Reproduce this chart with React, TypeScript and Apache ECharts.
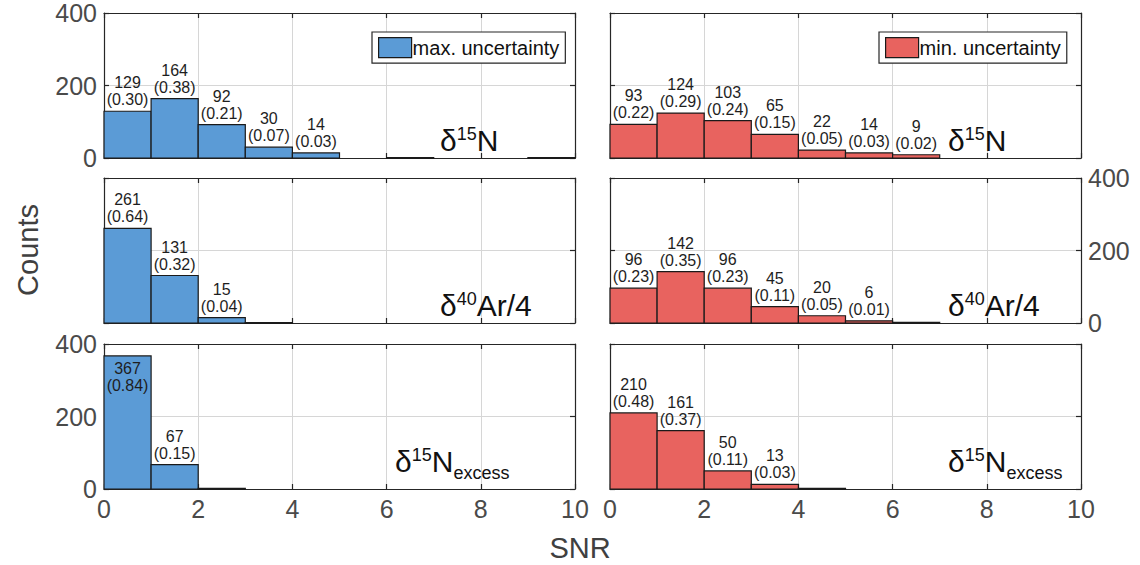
import React, { useEffect, useRef } from "react";
import * as echarts from "echarts";

// ---- data ----
const binEdges = [0, 1, 2, 3, 4, 5, 6, 7, 8, 9, 10];
const xTicks = [0, 2, 4, 6, 8, 10];
const yTicks = [0, 200, 400];

// counts per bin (SNR bins of width 1)
const maxN15Counts = [129, 164, 92, 30, 14, 0, 1, 0, 0, 1];
const maxN15Frac = ["0.30", "0.38", "0.21", "0.07", "0.03", null, null, null, null, null];
const minN15Counts = [93, 124, 103, 65, 22, 14, 9, 0, 0, 0];
const minN15Frac = ["0.22", "0.29", "0.24", "0.15", "0.05", "0.03", "0.02", null, null, null];

const maxArCounts = [261, 131, 15, 1, 0, 0, 0, 0, 0, 0];
const maxArFrac = ["0.64", "0.32", "0.04", null, null, null, null, null, null, null];
const minArCounts = [96, 142, 96, 45, 20, 6, 2, 0, 0, 0];
const minArFrac = ["0.23", "0.35", "0.23", "0.11", "0.05", "0.01", null, null, null, null];

const maxExCounts = [367, 67, 2, 0, 0, 0, 0, 0, 0, 0];
const maxExFrac = ["0.84", "0.15", null, null, null, null, null, null, null, null];
const minExCounts = [210, 161, 50, 13, 2, 0, 0, 0, 0, 0];
const minExFrac = ["0.48", "0.37", "0.11", "0.03", null, null, null, null, null, null];

const legendNames = ["max. uncertainty", "min. uncertainty"];

const FONT = "'Liberation Sans', Arial, Helvetica, sans-serif";
const BLUE = "#5b9bd6";
const RED = "#e8635f";
const AXIS = "#262626";
const TICKTXT = "#4a4a4a";

type Panel = {
  counts: number[];
  frac: (string | null)[];
  color: string;
  name: string;
  left: number;
  top: number;
  insideFirst?: boolean;
};

const LEFT_X = 104;
const RIGHT_X = 610;
const PW = 471;
const PH = 145;
const TOPS = [13, 178, 344];

const panels: Panel[] = [
  { counts: maxN15Counts, frac: maxN15Frac, color: BLUE, name: legendNames[0], left: LEFT_X, top: TOPS[0] },
  { counts: minN15Counts, frac: minN15Frac, color: RED, name: legendNames[1], left: RIGHT_X, top: TOPS[0] },
  { counts: maxArCounts, frac: maxArFrac, color: BLUE, name: legendNames[0], left: LEFT_X, top: TOPS[1] },
  { counts: minArCounts, frac: minArFrac, color: RED, name: legendNames[1], left: RIGHT_X, top: TOPS[1] },
  { counts: maxExCounts, frac: maxExFrac, color: BLUE, name: legendNames[0], left: LEFT_X, top: TOPS[2], insideFirst: true },
  { counts: minExCounts, frac: minExFrac, color: RED, name: legendNames[1], left: RIGHT_X, top: TOPS[2] },
];

function buildOption() {
  const grid: any[] = [];
  const xAxis: any[] = [];
  const yAxis: any[] = [];
  const series: any[] = [];

  panels.forEach((p, g) => {
    const isLeft = p.left === LEFT_X;
    const row = Math.floor(g / 2);
    grid.push({ left: p.left, top: p.top, width: PW, height: PH, containLabel: false });
    const common = {
      gridIndex: g,
      type: "value",
      min: xTicks[0],
      max: xTicks[xTicks.length - 1],
      interval: 2,
      axisLine: { show: true, onZero: false, lineStyle: { color: AXIS, width: 1.2 } },
      axisTick: { show: true, inside: true, length: 5, lineStyle: { color: AXIS, width: 1.2 } },
    };
    xAxis.push({
      ...common,
      position: "bottom",
      axisLabel: {
        show: row === 2,
        fontSize: 25,
        color: TICKTXT,
        fontFamily: FONT,
        margin: 7,
      },
      splitLine: { show: true, lineStyle: { color: "#d6d6d6", width: 1 } },
    });
    xAxis.push({
      ...common,
      position: "top",
      axisLabel: { show: false },
      splitLine: { show: false },
    });
    const ycommon = {
      gridIndex: g,
      type: "value",
      min: yTicks[0],
      max: yTicks[yTicks.length - 1],
      interval: 200,
      axisLine: { show: true, onZero: false, lineStyle: { color: AXIS, width: 1.2 } },
      axisTick: { show: true, inside: true, length: 5, lineStyle: { color: AXIS, width: 1.2 } },
    };
    yAxis.push({
      ...ycommon,
      position: "left",
      axisLabel: {
        show: isLeft && row !== 1,
        fontSize: 25,
        color: TICKTXT,
        fontFamily: FONT,
        margin: 7,
      },
      splitLine: { show: true, lineStyle: { color: "#d6d6d6", width: 1 } },
    });
    yAxis.push({
      ...ycommon,
      position: "right",
      axisLabel: {
        show: !isLeft && row === 1,
        fontSize: 25,
        color: TICKTXT,
        fontFamily: FONT,
        margin: 7,
      },
      splitLine: { show: false },
    });

    const data = p.counts.map((c, i) => [binEdges[i], binEdges[i + 1], c, i]);
    series.push({
      type: "custom",
      name: p.name,
      xAxisIndex: g * 2,
      yAxisIndex: g * 2,
      itemStyle: { color: p.color, borderColor: "#1a1a1a", borderWidth: 1 },
      data,
      z: 3,
      renderItem: (params: any, api: any) => {
        const x0 = api.value(0);
        const x1 = api.value(1);
        const c = api.value(2);
        const idx = api.value(3);
        const a = api.coord([x0, 0]);
        const b = api.coord([x1, c]);
        const children: any[] = [];
        if (c > 0) {
          children.push({
            type: "rect",
            shape: { x: a[0], y: b[1], width: b[0] - a[0], height: Math.max(a[1] - b[1], 0.8) },
            style: { fill: p.color, stroke: "#1a1a1a", lineWidth: 1.2 },
          });
        }
        const f = p.frac[idx];
        if (f != null) {
          const inside = p.insideFirst && idx === 0;
          children.push({
            type: "text",
            z2: 10,
            style: {
              text: `${c}\n(${f})`,
              x: (a[0] + b[0]) / 2,
              y: inside ? b[1] + 4 : b[1] - 3,
              align: "center",
              verticalAlign: inside ? "top" : "bottom",
              fontSize: 16,
              lineHeight: 17,
              fontFamily: FONT,
              fill: "#1e1e1e",
            },
          });
        }
        return { type: "group", children };
      },
    });
  });

  const annot = (x: number, y: number, text: string) => ({
    type: "text",
    x,
    y,
    style: {
      text,
      fontFamily: FONT,
      fill: "#111",
      align: "left",
      verticalAlign: "bottom",
      rich: {
        d: { fontSize: 30, lineHeight: 30, verticalAlign: "bottom", fontFamily: FONT, fill: "#111" },
        s: { fontSize: 18, lineHeight: 18, verticalAlign: "top", fontFamily: FONT, fill: "#111" },
        b: { fontSize: 18, lineHeight: 18, verticalAlign: "bottom", fontFamily: FONT, fill: "#111", padding: [0, 0, -6, 0] },
      },
    },
    z: 20,
  });

  const graphic = [
    annot(440, 155, "{d|δ}{s|15}{d|N}"),
    annot(948, 155, "{d|δ}{s|15}{d|N}"),
    annot(440, 320, "{d|δ}{s|40}{d|Ar/4}"),
    annot(948, 320, "{d|δ}{s|40}{d|Ar/4}"),
    annot(395, 476, "{d|δ}{s|15}{d|N}{b|excess}"),
    annot(948, 476, "{d|δ}{s|15}{d|N}{b|excess}"),
    {
      type: "text",
      x: 28,
      y: 250,
      rotation: Math.PI / 2,
      style: {
        text: "Counts",
        fontSize: 29,
        fontFamily: FONT,
        fill: "#404040",
        align: "center",
        verticalAlign: "middle",
      },
    },
    {
      type: "text",
      x: 580,
      y: 548,
      style: {
        text: "SNR",
        fontSize: 29,
        fontFamily: FONT,
        fill: "#404040",
        align: "center",
        verticalAlign: "middle",
      },
    },
  ];

  const legendCommon = {
    orient: "vertical",
    backgroundColor: "#ffffff",
    borderColor: AXIS,
    borderWidth: 1.2,
    borderRadius: 0,
    padding: [5, 6, 5, 6],
    itemWidth: 33,
    itemHeight: 20,
    itemGap: 0,
    icon: "rect",
    textStyle: { fontSize: 20, fontFamily: FONT, color: "#111", padding: [0, 0, 0, -4] },
    itemStyle: { borderColor: "#1a1a1a", borderWidth: 1.2 },
    selectedMode: false,
  };

  return {
    animation: false,
    backgroundColor: "#ffffff",
    grid,
    xAxis,
    yAxis,
    series,
    graphic,
    legend: [
      { ...legendCommon, data: [legendNames[0]], left: 372, top: 32 },
      { ...legendCommon, data: [legendNames[1]], left: 879, top: 32 },
    ],
  };
}

export default function App() {
  const ref = useRef<HTMLDivElement>(null);
  useEffect(() => {
    document.body.style.margin = "0";
    if (!ref.current) return;
    const chart = echarts.init(ref.current, undefined, { renderer: "svg" });
    chart.setOption(buildOption() as any);
    return () => chart.dispose();
  }, []);
  return <div ref={ref} style={{ width: 1140, height: 565 }} />;
}
